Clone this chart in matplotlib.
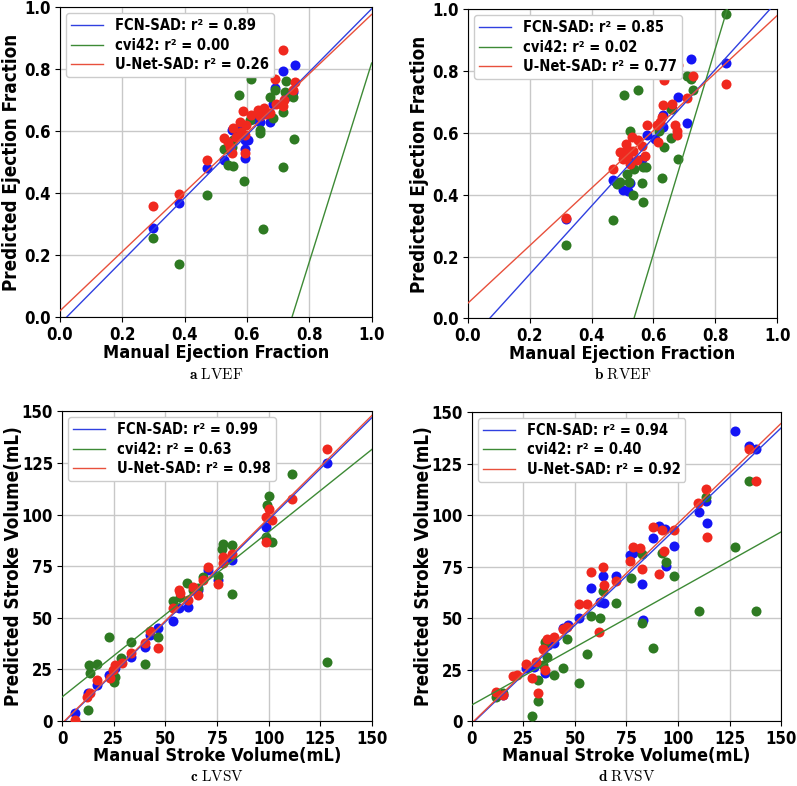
import matplotlib.pyplot as plt
from matplotlib import font_manager

plt.rcParams['mathtext.fontset'] = 'cm'

# the reference text is a narrow bold sans; take a condensed face if one is installed
bold_font = None
for f in font_manager.fontManager.ttflist:
    if 'DejaVuSansCondensed-Bold.ttf' in f.fname:
        bold_font = f.fname
if bold_font is None:
    for f in font_manager.fontManager.ttflist:
        if 'LiberationSansNarrow-Bold.ttf' in f.fname:
            bold_font = f.fname


def bold(size):
    if bold_font:
        return font_manager.FontProperties(fname=bold_font, size=size)
    return font_manager.FontProperties(family='DejaVu Sans', weight='bold', size=size)


# ---- panel a: LVEF ----
a_fcn_x = [0.299, 0.382, 0.473, 0.527, 0.593, 0.593, 0.593, 0.604, 0.553, 0.641, 0.675, 0.682, 0.689, 0.714,
           0.753, 0.726, 0.748, 0.577, 0.620, 0.652, 0.545]
a_fcn_y = [0.286, 0.367, 0.482, 0.506, 0.512, 0.542, 0.571, 0.571, 0.603, 0.630, 0.630, 0.687, 0.741, 0.794,
           0.815, 0.711, 0.727, 0.614, 0.640, 0.660, 0.540]
a_cvi_x = [0.299, 0.382, 0.473, 0.652, 0.591, 0.540, 0.556, 0.714, 0.751, 0.614, 0.575, 0.527, 0.553, 0.641,
           0.641, 0.673, 0.689, 0.724, 0.721, 0.748, 0.714, 0.682, 0.609, 0.556]
a_cvi_y = [0.254, 0.171, 0.394, 0.283, 0.439, 0.492, 0.488, 0.485, 0.576, 0.768, 0.718, 0.542, 0.549, 0.595,
           0.603, 0.711, 0.732, 0.762, 0.727, 0.709, 0.662, 0.641, 0.636, 0.571]
a_unet_x = [0.299, 0.382, 0.473, 0.527, 0.556, 0.553, 0.540, 0.593, 0.577, 0.588, 0.593, 0.614, 0.636, 0.654,
            0.675, 0.689, 0.714, 0.719, 0.714, 0.753, 0.748, 0.598, 0.566, 0.662, 0.694, 0.641, 0.545, 0.582]
a_unet_y = [0.358, 0.396, 0.506, 0.578, 0.609, 0.530, 0.565, 0.528, 0.630, 0.666, 0.587, 0.652, 0.668, 0.676,
            0.659, 0.770, 0.861, 0.702, 0.681, 0.759, 0.732, 0.619, 0.582, 0.657, 0.689, 0.650, 0.550, 0.598]

# ---- panel b: RVEF ----
b_fcn_x = [0.319, 0.470, 0.479, 0.503, 0.519, 0.526, 0.532, 0.562, 0.578, 0.632, 0.632, 0.659, 0.678, 0.708,
           0.721, 0.834, 0.514, 0.605]
b_fcn_y = [0.323, 0.447, 0.441, 0.414, 0.411, 0.438, 0.506, 0.517, 0.592, 0.657, 0.619, 0.679, 0.716, 0.633,
           0.840, 0.826, 0.528, 0.581]
b_cvi_x = [0.319, 0.468, 0.505, 0.551, 0.524, 0.481, 0.492, 0.522, 0.535, 0.568, 0.562, 0.537, 0.565, 0.576,
           0.627, 0.634, 0.657, 0.679, 0.618, 0.708, 0.722, 0.729, 0.835, 0.677, 0.656, 0.514]
b_cvi_y = [0.239, 0.317, 0.724, 0.738, 0.608, 0.436, 0.441, 0.441, 0.400, 0.376, 0.438, 0.482, 0.490, 0.490,
           0.454, 0.554, 0.585, 0.515, 0.605, 0.783, 0.776, 0.740, 0.984, 0.826, 0.679, 0.468]
b_unet_x = [0.319, 0.470, 0.492, 0.510, 0.503, 0.519, 0.530, 0.535, 0.551, 0.562, 0.573, 0.578, 0.616, 0.611,
            0.621, 0.627, 0.632, 0.659, 0.670, 0.675, 0.675, 0.635, 0.679, 0.708, 0.729, 0.834, 0.524, 0.546, 0.514]
b_unet_y = [0.325, 0.484, 0.538, 0.565, 0.517, 0.528, 0.587, 0.543, 0.576, 0.557, 0.524, 0.625, 0.571, 0.625,
            0.635, 0.652, 0.689, 0.695, 0.625, 0.608, 0.592, 0.770, 0.821, 0.714, 0.783, 0.759, 0.500, 0.511, 0.549]

# ---- panel c: LVSV ----
c_fcn_x = [6.3, 12.8, 16.8, 22.9, 33.4, 40.2, 42.6, 46.3, 53.5, 56.8, 60.8, 65.6, 70.8, 75.3, 82.1, 98.5,
           128.1, 25.6]
c_fcn_y = [3.7, 13.4, 17.4, 22.3, 31.1, 36.0, 41.6, 45.2, 48.4, 54.5, 55.3, 63.4, 73.1, 68.2, 77.9, 94.0,
           125.0, 25.5]
c_cvi_x = [12.7, 13.2, 16.8, 13.5, 22.9, 25.3, 25.6, 28.5, 33.2, 40.2, 46.3, 53.5, 60.3, 66.0, 68.1, 75.3,
           77.3, 78.1, 82.1, 82.1, 99.0, 100.2, 98.5, 101.8, 111.1, 128.1, 57.1, 63.5]
c_cvi_y = [5.3, 27.1, 27.4, 23.1, 40.8, 19.0, 21.5, 30.3, 38.4, 27.4, 40.8, 58.1, 66.9, 64.2, 69.8, 70.3,
           83.5, 85.5, 85.2, 61.3, 104.8, 109.0, 89.2, 86.5, 119.8, 28.7, 60.3, 63.5]
c_unet_x = [6.3, 11.9, 13.5, 16.8, 23.2, 24.8, 25.6, 28.9, 33.4, 40.2, 42.6, 46.3, 53.5, 56.8, 57.1, 61.1,
            63.5, 65.6, 68.1, 70.8, 75.3, 77.7, 78.1, 82.1, 98.5, 100.3, 101.8, 98.5, 111.5, 128.1]
c_unet_y = [0.5, 11.8, 13.4, 19.8, 20.6, 24.7, 27.1, 27.9, 32.7, 37.6, 43.5, 35.2, 54.5, 63.4, 61.8, 58.5,
            65.0, 61.0, 68.2, 74.7, 66.3, 79.5, 76.3, 81.1, 98.9, 102.9, 97.3, 86.5, 107.7, 131.9]

# ---- panel d: RVSV ----
d_fcn_x = [11.7, 15.2, 26.5, 30.1, 35.4, 40.0, 37.1, 44.3, 46.8, 52.1, 57.8, 62.1, 64.2, 63.4, 69.7, 76.7,
           78.3, 82.4, 82.8, 87.7, 91.0, 93.7, 94.0, 98.1, 110.2, 113.4, 113.9, 127.7, 134.6, 137.7]
d_fcn_y = [13.4, 12.6, 25.6, 26.4, 23.5, 37.7, 36.9, 45.3, 46.6, 49.8, 64.4, 57.9, 57.1, 70.4, 70.6, 80.5,
           81.7, 66.5, 49.0, 88.7, 94.7, 93.2, 75.4, 85.1, 101.6, 107.0, 96.0, 140.9, 133.7, 132.0]
d_cvi_x = [11.7, 15.0, 29.4, 32.2, 32.2, 34.3, 36.7, 35.4, 39.8, 44.0, 46.4, 52.1, 55.7, 57.8, 62.1, 63.4,
           69.7, 77.0, 82.4, 82.4, 88.0, 92.1, 94.0, 98.1, 110.2, 113.4, 127.7, 134.6, 137.7]
d_cvi_y = [11.8, 13.5, 2.4, 9.7, 19.9, 27.2, 30.9, 38.5, 22.3, 25.6, 39.6, 18.6, 32.4, 51.0, 49.8, 63.3,
           57.1, 69.3, 81.1, 47.7, 35.3, 81.4, 77.0, 70.6, 53.4, 108.9, 84.6, 116.7, 53.4]
d_unet_x = [11.7, 15.2, 20.1, 21.7, 26.5, 29.4, 31.1, 32.2, 34.6, 36.7, 39.9, 35.4, 44.3, 46.0, 52.1, 55.7,
            57.8, 63.4, 64.1, 61.8, 69.7, 76.7, 78.3, 81.6, 82.4, 88.0, 92.1, 93.2, 90.8, 98.1, 109.9, 113.4,
            113.9, 134.6, 137.7]
d_unet_y = [14.2, 12.6, 21.8, 22.5, 27.5, 21.0, 28.8, 13.8, 34.8, 39.6, 40.9, 24.8, 44.7, 45.8, 56.8, 56.8,
            72.5, 74.6, 66.0, 43.0, 68.1, 77.7, 84.6, 84.1, 73.6, 94.3, 92.7, 82.7, 71.2, 92.7, 105.7, 112.5,
            89.5, 132.0, 116.7]

# regression lines: (slope, intercept) for FCN-SAD, cvi42, U-Net-SAD
a_fits = [(1.017, -0.022), (3.21, -2.39), (0.957, 0.020)]
b_fits = [(1.104, -0.078), (3.32, -1.784), (0.931, 0.049)]
c_fits = [(0.99, -1.5), (0.80, 11.6), (0.995, -1.2)]
d_fits = [(0.958, -1.4), (0.56, 7.8), (0.97, -1.0)]

a_r2 = ['0.89', '0.00', '0.26']
b_r2 = ['0.85', '0.02', '0.77']
c_r2 = ['0.99', '0.63', '0.98']
d_r2 = ['0.94', '0.40', '0.92']

methods = ['FCN-SAD', 'cvi42', 'U-Net-SAD']
dot_colors = ['#1414f5', '#2e7a22', '#f0281e']
line_colors = ['#3040e0', '#3d8a35', '#e8503c']

fig = plt.figure(figsize=(7.97, 7.86), dpi=100)

panels = [
    ([0.0753, 0.5967, 0.391, 0.394], [(a_fcn_x, a_fcn_y), (a_cvi_x, a_cvi_y), (a_unet_x, a_unet_y)],
     a_fits, a_r2, (0, 1), 'Manual Ejection Fraction', 'Predicted Ejection Fraction', 'a', 'LVEF', 0.523, 0),
    ([0.587, 0.595, 0.388, 0.393], [(b_fcn_x, b_fcn_y), (b_cvi_x, b_cvi_y), (b_unet_x, b_unet_y)],
     b_fits, b_r2, (0, 1), 'Manual Ejection Fraction', 'Predicted Ejection Fraction', 'b', 'RVEF', 0.523, 0),
    ([0.0778, 0.0827, 0.389, 0.394], [(c_fcn_x, c_fcn_y), (c_cvi_x, c_cvi_y), (c_unet_x, c_unet_y)],
     c_fits, c_r2, (0, 150), 'Manual Stroke Volume(mL)', 'Predicted Stroke Volume(mL)', 'c', 'LVSV', 0.012, -0.5),
    ([0.592, 0.0827, 0.388, 0.393], [(d_fcn_x, d_fcn_y), (d_cvi_x, d_cvi_y), (d_unet_x, d_unet_y)],
     d_fits, d_r2, (0, 150), 'Manual Stroke Volume(mL)', 'Predicted Stroke Volume(mL)', 'd', 'RVSV', 0.012, -0.5),
]

for rect, series, fits, r2s, lim, xlab, ylab, letter, name, cap_y, xpad in panels:
    ax = fig.add_axes(rect)
    for (xs, ys), c in zip(series, dot_colors):
        ax.scatter(xs, ys, s=52, color=c, zorder=3, linewidths=0)
    for (m, b), c, meth, r2 in zip(fits, line_colors, methods, r2s):
        ax.plot([lim[0], lim[1]], [m * lim[0] + b, m * lim[1] + b], color=c, lw=1,
                label=f'{meth}: r\u00b2 = {r2}', zorder=4)
    ax.set_xlim(lim)
    ax.set_ylim(lim)
    if lim[1] == 1:
        ticks = [0.0, 0.2, 0.4, 0.6, 0.8, 1.0]
        ax.set_xticks(ticks)
        ax.set_yticks(ticks)
        ax.set_xticklabels([f'{t:.1f}' for t in ticks])
        ax.set_yticklabels([f'{t:.1f}' for t in ticks])
    else:
        ticks = [0, 25, 50, 75, 100, 125, 150]
        ax.set_xticks(ticks)
        ax.set_yticks(ticks)
    ax.grid(True, color='#c8c8c8', lw=1)
    ax.set_axisbelow(True)
    ax.tick_params(pad=3)
    for lab in ax.get_xticklabels() + ax.get_yticklabels():
        lab.set_fontproperties(bold(12))
    ax.set_xlabel(xlab, fontproperties=bold(13), labelpad=xpad)
    ax.set_ylabel(ylab, fontproperties=bold(13.5), va='center')
    ax.yaxis.set_label_coords(-0.157, 0.5)
    leg = ax.legend(loc='upper left', prop=bold(10.5), framealpha=1, labelspacing=0.3,
                    borderpad=0.35, handlelength=2.2, borderaxespad=0.4)
    leg.set_zorder(10)
    leg.get_frame().set_edgecolor('#cccccc')
    pos = ax.get_position()
    fig.text(pos.x0 + pos.width / 2, cap_y, r'$\mathbf{' + letter + r'}\ \mathrm{' + name + '}$',
             ha='center', va='center', fontsize=11)

fig.savefig('out.png', dpi=100)
